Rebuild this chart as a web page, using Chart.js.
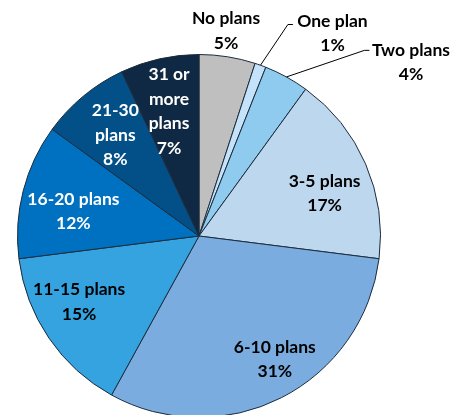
<!DOCTYPE html>
<html>
<head>
<meta charset="utf-8">
<script src="https://cdn.jsdelivr.net/npm/chart.js@4.4.1/dist/chart.umd.min.js"></script>
<style>
    html, body { margin: 0; padding: 0; background: #fff; overflow: hidden; }
    #wrap { position: relative; width: 453px; height: 420px; }
</style>
</head>
<body>
<div id="wrap"><canvas id="pie-chart"></canvas></div>
<script>
// Share of respondents by number of plans
const categories = ['No plans', 'One plan', 'Two plans', '3-5 plans', '6-10 plans', '11-15 plans', '16-20 plans', '21-30 plans', '31 or more plans'];
const shares = [5, 1, 4, 17, 31, 15, 12, 8, 7];
// how each label is broken into lines
const labelLines = [
    ['No plans'], ['One plan'], ['Two plans'], ['3-5 plans'], ['6-10 plans'],
    ['11-15 plans'], ['16-20 plans'], ['21-30', 'plans'], ['31 or', 'more', 'plans']
];

const sliceColors = ['#bfbfbf', '#c4e2fa', '#8ecbee', '#bdd7ee', '#7aacdf', '#34a3e0', '#0070c0', '#034f87', '#0f2843'];
const textColors = ['#000', '#000', '#000', '#000', '#000', '#000', '#fff', '#fff', '#fff'];

// label placement: angle shift (deg) from slice middle, distance as fraction of radius
const labelShift = [-1.5, 13.6, 21.9, 4.6, -4.6, 5.5, -3.4, -0.1, -0.9];
const labelDist = [1.14, 1.336, 1.51, 0.731, 0.797, 0.753, 0.705, 0.722, 0.707];
// leader lines for the outside labels: [index, elbow angle shift, elbow dist, tail px]
const leaders = [[1, 3.0, 1.264, 5], [2, 12.9, 1.37, 5]];

const FONT = 'bold 17.5px Lato, "Open Sans", sans-serif';
const LINE_H = 24.5;

const pieLabels = {
    id: 'pieLabels',
    afterDatasetsDraw(chart) {
        const ctx = chart.ctx;
        const arcs = chart.getDatasetMeta(0).data;
        ctx.save();

        // leaders
        ctx.strokeStyle = '#000';
        ctx.lineWidth = 1;
        leaders.forEach(([i, shift, dist, tail]) => {
            const a = arcs[i];
            const mid = (a.startAngle + a.endAngle) / 2;
            const el = mid + shift * Math.PI / 180;
            const sx = a.x + Math.cos(mid) * a.outerRadius;
            const sy = a.y + Math.sin(mid) * a.outerRadius;
            const ex = a.x + Math.cos(el) * a.outerRadius * dist;
            const ey = a.y + Math.sin(el) * a.outerRadius * dist;
            ctx.beginPath();
            ctx.moveTo(sx, sy);
            ctx.lineTo(ex, ey);
            ctx.lineTo(ex + tail, ey);
            ctx.stroke();
        });

        // texts
        ctx.font = FONT;
        ctx.textAlign = 'center';
        ctx.textBaseline = 'middle';
        arcs.forEach((a, i) => {
            const mid = (a.startAngle + a.endAngle) / 2 + labelShift[i] * Math.PI / 180;
            const r = a.outerRadius * labelDist[i];
            const cx = a.x + Math.cos(mid) * r;
            const cy = a.y + Math.sin(mid) * r;
            const lines = labelLines[i].concat([shares[i] + '%']);
            const top = cy - (lines.length - 1) * LINE_H / 2;
            ctx.fillStyle = textColors[i];
            lines.forEach((t, k) => ctx.fillText(t, cx, top + k * LINE_H));
        });
        ctx.restore();
    }
};

new Chart(document.getElementById('pie-chart'), {
    type: 'pie',
    data: {
        labels: categories,
        datasets: [{
            data: shares,
            backgroundColor: sliceColors,
            borderColor: '#1c2c3c',
            borderWidth: 1,
            hoverOffset: 0
        }]
    },
    options: {
        responsive: true,
        maintainAspectRatio: false,
        animation: false,
        layout: { padding: { top: 54, bottom: 2, left: 17, right: 72 } },
        plugins: {
            legend: { display: false },
            tooltip: { enabled: false }
        }
    },
    plugins: [pieLabels]
});
</script>
</body>
</html>
